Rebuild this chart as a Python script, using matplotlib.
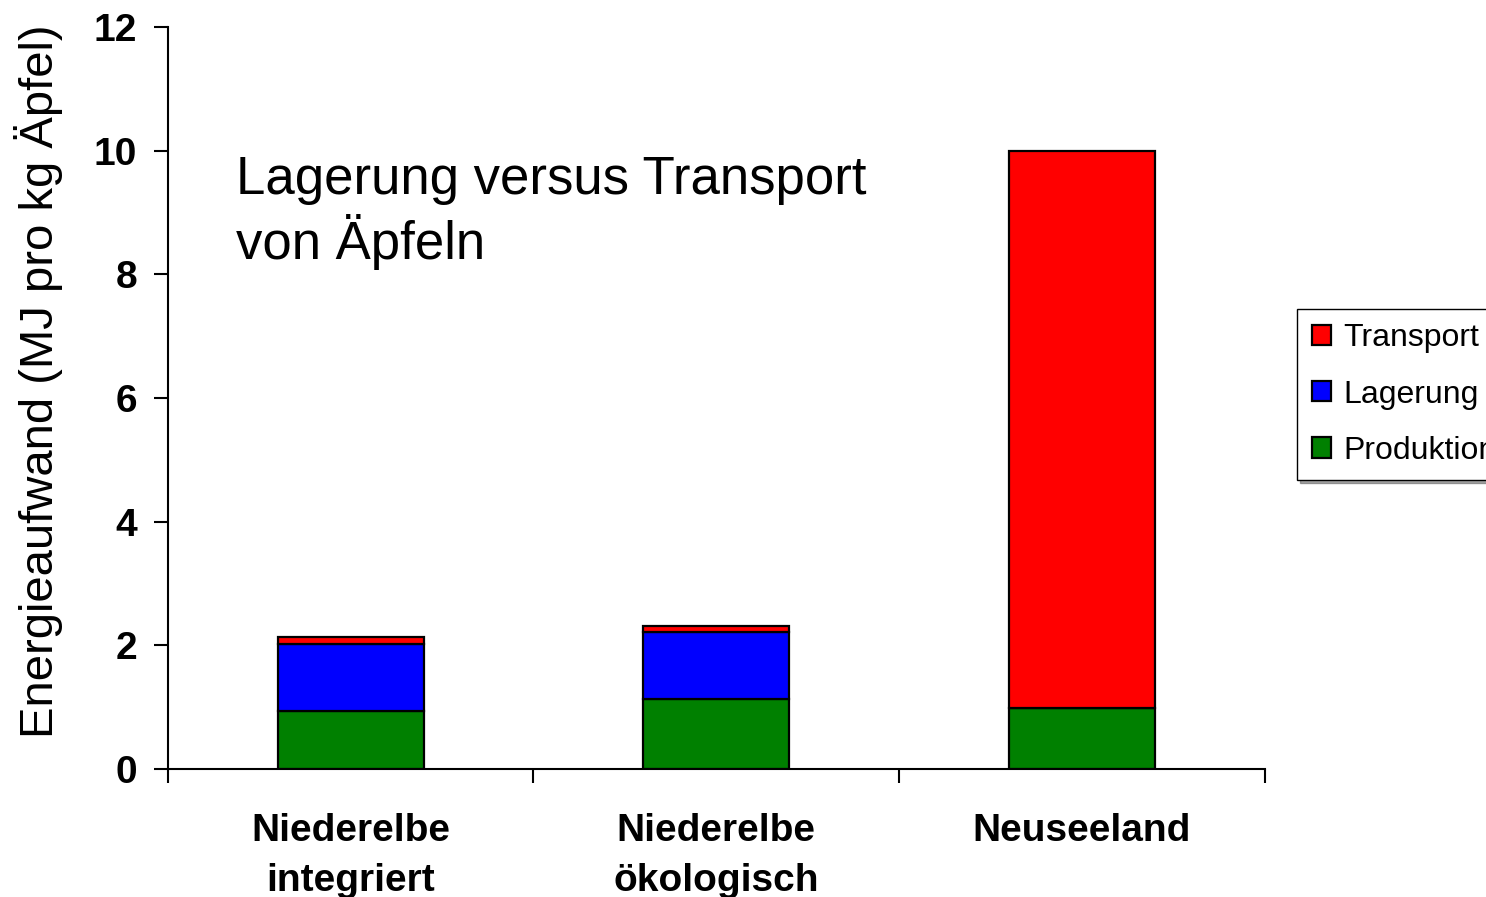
import matplotlib
matplotlib.use('Agg')
import matplotlib.pyplot as plt
import numpy as np

plt.rcParams['font.family'] = ['Liberation Sans', 'DejaVu Sans']

# Energieaufwand je Herkunft (MJ pro kg Äpfel)
regionen = ['Niederelbe\nintegriert', 'Niederelbe\nökologisch', 'Neuseeland']
produktion = [0.94, 1.13, 0.98]
lagerung = [1.08, 1.09, 0.0]
transport = [0.11, 0.10, 9.02]

farben = {'Produktion': '#008000', 'Lagerung': '#0000FF', 'Transport': '#FF0000'}

fig = plt.figure(figsize=(14.86, 8.97), dpi=100)
ax = fig.add_axes([0.113, 0.1427, 0.738, 0.8273])

x = np.arange(len(regionen))
breite = 0.4
kw = dict(width=breite, edgecolor='black', linewidth=1.6)
b_prod = ax.bar(x, produktion, color=farben['Produktion'], label='Produktion', **kw)
unten = np.array(produktion)
b_lag = ax.bar(x, lagerung, bottom=unten, color=farben['Lagerung'], label='Lagerung', **kw)
unten = unten + np.array(lagerung)
b_tr = ax.bar(x, transport, bottom=unten, color=farben['Transport'], label='Transport', **kw)

ax.set_xlim(-0.5, 2.5)
ax.set_ylim(0, 12)
ax.set_yticks([0, 2, 4, 6, 8, 10, 12])
ax.tick_params(axis='y', direction='out', length=10, width=1.5, labelsize=28, pad=12)
for lbl in ax.get_yticklabels():
    lbl.set_fontweight('bold')

# Trennstriche zwischen den Kategorien, Beschriftung mittig
ax.set_xticks([-0.5, 0.5, 1.5, 2.5])
ax.set_xticklabels([])
ax.set_xticks(x, minor=True)
ax.set_xticklabels(regionen, minor=True, fontsize=28, fontweight='bold', linespacing=1.5)
ax.tick_params(axis='x', which='major', direction='out', length=10, width=1.5)
ax.tick_params(axis='x', which='minor', length=0, pad=32)

for side in ['top', 'right']:
    ax.spines[side].set_visible(False)
for side in ['left', 'bottom']:
    ax.spines[side].set_linewidth(1.5)

ax.set_ylabel('Energieaufwand (MJ pro kg Äpfel)', fontsize=34, labelpad=22)
ax.yaxis.label.set_y(0.522)

ax.text(0.062, 0.827, 'Lagerung versus Transport\nvon Äpfeln', transform=ax.transAxes,
        fontsize=38, va='top', ha='left', linespacing=1.2)

handles = [b_tr, b_lag, b_prod]
leg = fig.legend(handles, [h.get_label() for h in handles],
                 loc='upper left', bbox_to_anchor=(0.873, 0.6555),
                 fontsize=23, frameon=True, fancybox=False, shadow=True,
                 handlelength=0.6, handleheight=0.6, handletextpad=0.4,
                 labelspacing=0.82, borderpad=0.45, borderaxespad=0)
leg.get_frame().set_edgecolor('black')
leg.get_frame().set_linewidth(1.0)

fig.savefig('out.png', dpi=100)
